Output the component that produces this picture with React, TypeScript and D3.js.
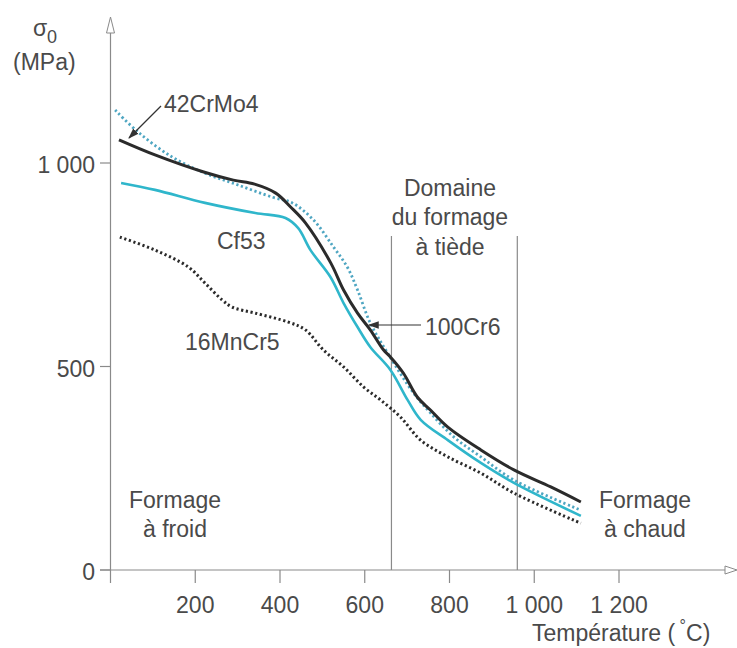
import React from "react";
import * as d3 from "d3";

// Limite d'élasticité σ0 (MPa) en fonction de la température (°C)
const t42CrMo4 = [20, 105, 220, 290, 340, 390, 425, 460, 520, 550, 583, 613, 644, 661, 691, 724, 755, 796, 874, 952, 1039, 1110];
const s42CrMo4 = [1057, 1020, 978, 958, 948, 926, 892, 853, 754, 688, 631, 590, 541, 523, 484, 425, 393, 351, 295, 246, 204, 167];

const tCf53 = [25, 105, 223, 342, 413, 443, 472, 519, 550, 583, 613, 661, 701, 732, 796, 874, 952, 1110];
const sCf53 = [951, 934, 902, 877, 865, 840, 786, 720, 656, 597, 548, 491, 418, 369, 319, 263, 214, 133];

const t16MnCr5 = [22, 105, 183, 223, 264, 287, 342, 420, 460, 502, 550, 597, 637, 684, 732, 796, 874, 952, 1110];
const s16MnCr5 = [818, 786, 745, 705, 663, 646, 631, 609, 590, 541, 499, 450, 418, 376, 319, 278, 238, 189, 115];

const t100Cr6 = [11, 65, 145, 223, 301, 382, 429, 479, 526, 559, 583, 613, 654, 715, 755, 810, 874, 952, 1110];
const s100Cr6 = [1130, 1076, 1015, 975, 946, 916, 902, 860, 794, 744, 688, 607, 533, 435, 386, 327, 278, 221, 147];

const xTicks = [200, 400, 600, 800, 1000, 1200];
const yTicks = [0, 500, 1000];
const domainBounds = [663, 960];

const W = 737;
const H = 648;
const FONT = "'Liberation Sans', Arial, sans-serif";
const AXIS = "#8a8a8a";
const TXT = "#4a4a4a";

const x = d3.scaleLinear().domain([0, 1200]).range([110.5, 619]);
const y = d3.scaleLinear().domain([0, 1000]).range([570, 163]);

const fmt = (v: number) => (v >= 1000 ? `${Math.floor(v / 1000)} ${String(v % 1000).padStart(3, "0")}` : String(v));

const zip = (ts: number[], ss: number[]) => ts.map((t, i) => [t, ss[i]] as [number, number]);

const line = d3
  .line<[number, number]>()
  .x((d) => x(d[0]))
  .y((d) => y(d[1]))
  .curve(d3.curveCatmullRom.alpha(0.5));

const series = [
  { name: "16MnCr5", pts: zip(t16MnCr5, s16MnCr5), color: "#2b2b2b", dash: "2.2 2.6", width: 3 },
  { name: "Cf53", pts: zip(tCf53, sCf53), color: "#2fb6cb", dash: null, width: 2.6 },
  { name: "100Cr6", pts: zip(t100Cr6, s100Cr6), color: "#4fa6c2", dash: "2.2 2.6", width: 2.8 },
  { name: "42CrMo4", pts: zip(t42CrMo4, s42CrMo4), color: "#2b2b2b", dash: null, width: 3 },
];

export default function App() {
  const x0 = x(0);
  const y0 = y(0);
  return (
    <svg
      width={W}
      height={H}
      style={{ position: "absolute", left: 0, top: 0, background: "#fff" }}
      fontFamily={FONT}
    >
      <defs>
        <marker id="arr" viewBox="0 0 10 10" refX="9" refY="5" markerWidth="9" markerHeight="9" orient="auto">
          <path d="M0,1.5 L10,5 L0,8.5 Z" fill="#333" />
        </marker>
      </defs>

      {/* axes */}
      <line x1={x0} x2={x0} y1={y0 + 13} y2={33} stroke={AXIS} strokeWidth={1.2} />
      <path d={`M${x0},17 L${x0 - 4},33 L${x0 + 4},33 Z`} fill="#fff" stroke={AXIS} strokeWidth={1} />
      <line x1={100} x2={725} y1={y0} y2={y0} stroke={AXIS} strokeWidth={1.2} />
      <path d={`M737,${y0} L725,${y0 - 4} L725,${y0 + 4} Z`} fill="#fff" stroke={AXIS} strokeWidth={1} />

      {yTicks.map((v) => (
        <g key={v}>
          <line x1={100} x2={x0} y1={y(v)} y2={y(v)} stroke={AXIS} strokeWidth={1.2} />
          <text x={95} y={y(v) + 4} dominantBaseline="middle" textAnchor="end" fontSize={23} fill={TXT}>
            {fmt(v)}
          </text>
        </g>
      ))}
      {xTicks.map((v) => (
        <g key={v}>
          <line x1={x(v)} x2={x(v)} y1={y0} y2={y0 + 13} stroke={AXIS} strokeWidth={1.2} />
          <text x={x(v)} y={613} textAnchor="middle" fontSize={23} fill={TXT}>
            {fmt(v)}
          </text>
        </g>
      ))}

      {/* domaine du formage à tiède */}
      {domainBounds.map((t) => (
        <line key={t} x1={x(t)} x2={x(t)} y1={236} y2={y0} stroke={AXIS} strokeWidth={1.2} />
      ))}

      {/* curves */}
      {series.map((s) => (
        <path
          key={s.name}
          d={line(s.pts) || ""}
          fill="none"
          stroke={s.color}
          strokeWidth={s.width}
          strokeDasharray={s.dash || undefined}
        />
      ))}

      {/* labels */}
      <g fontSize={23} fill={TXT}>
        <text x={33} y={36}>σ</text>
        <text x={47} y={43} fontSize={18}>0</text>
        <text x={13} y={70}>(MPa)</text>

        <text x={164} y={112}>42CrMo4</text>
        <text x={217} y={249}>Cf53</text>
        <text x={185} y={350}>16MnCr5</text>
        <text x={425} y={335}>100Cr6</text>

        <text x={450} y={196} textAnchor="middle">Domaine</text>
        <text x={450} y={225} textAnchor="middle">du formage</text>
        <text x={450} y={255} textAnchor="middle">à tiède</text>

        <text x={175} y={508} textAnchor="middle">Formage</text>
        <text x={175} y={537} textAnchor="middle">à froid</text>
        <text x={645} y={508} textAnchor="middle">Formage</text>
        <text x={645} y={537} textAnchor="middle">à chaud</text>

        <text x={532} y={641}>
          Température (
          <tspan dy={-10} fontSize={16}>{" °"}</tspan>
          <tspan dy={10}>C)</tspan>
        </text>
      </g>

      {/* pointer arrows */}
      <line x1={161} x2={129} y1={106} y2={138} stroke="#333" strokeWidth={1.2} markerEnd="url(#arr)" />
      <line x1={421} x2={369} y1={325} y2={325} stroke="#333" strokeWidth={1.2} markerEnd="url(#arr)" />
    </svg>
  );
}
